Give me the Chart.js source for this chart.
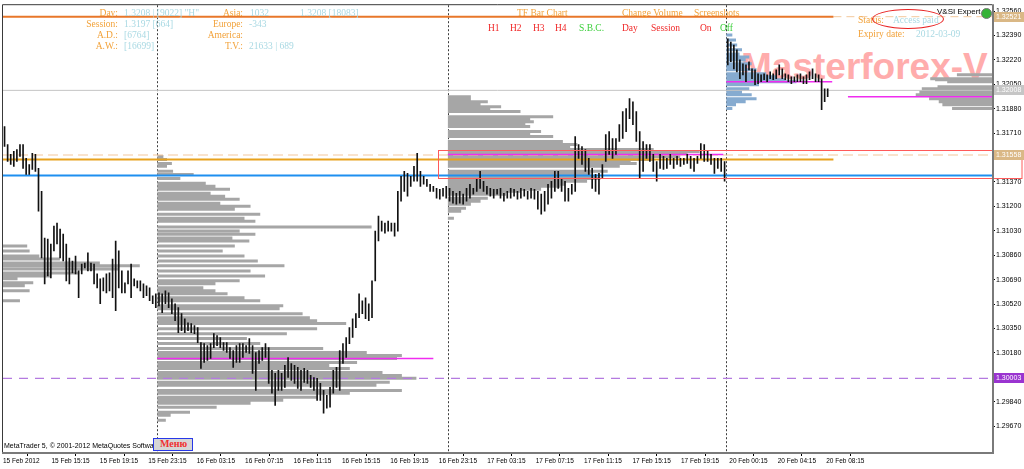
<!DOCTYPE html>
<html>
<head>
<meta charset="utf-8">
<script src="https://cdn.jsdelivr.net/npm/chart.js@4/dist/chart.umd.min.js"></script>
<style>
  html, body { margin: 0; padding: 0; background: #fff; overflow: hidden; }
  #wrap { position: relative; width: 1024px; height: 469px; }
  #c { position: absolute; left: 0; top: 0; z-index: 1; }
  .t { position: absolute; z-index: 2; font: 9.5px "Liberation Serif", serif; line-height: 12px; white-space: nowrap; }
  .lbl { color: #f2a23a; }
  .val { color: #a9d9e3; }
  .red { color: #f02828; }
  .grn { color: #3ccf3c; }
  #wm { position: absolute; z-index: 0; left: 741px; top: 48px; font: bold 37px "Liberation Sans", Arial, sans-serif;
        line-height: 1; color: #ffacac; white-space: nowrap; }
  #ell { position: absolute; z-index: 2; left: 872px; top: 9px; width: 70px; height: 18px; border: 1px solid #e82020; border-radius: 50%; }
  #copy { position: absolute; z-index: 2; left: 4px; top: 441px; font: 7px "Liberation Sans", sans-serif; line-height: 10px; color: #000; white-space: nowrap; }
  #menu { position: absolute; z-index: 3; left: 153px; top: 438px; width: 38px; height: 11px; border: 1px solid #2838e8; background: #d6d6d6; }
  #menu span { position: absolute; left: 6px; top: -1px; font: bold 10px "Liberation Serif", serif; color: #f03030; line-height: 12px; }
  #vsi { position: absolute; z-index: 2; left: 937px; top: 7px; font: 8px "Liberation Sans", sans-serif; line-height: 10px; color: #000; }
  #ico { position: absolute; z-index: 2; left: 981px; top: 8px; width: 9px; height: 9px; border-radius: 50%; background: #36b236; border: 1px solid #777; }
</style>
</head>
<body>
<div id="wrap">
  <div id="wm">Masterforex-V</div>
  <canvas id="c" width="1024" height="469"></canvas>

  <div class="t lbl" style="right:906px;top:7px">Day:</div>
  <div class="t val" style="left:124px;top:7px">1.3208 | [9022] "H"</div>
  <div class="t lbl" style="right:906px;top:18px">Session:</div>
  <div class="t val" style="left:124px;top:18px">1.3197 [664]</div>
  <div class="t lbl" style="right:906px;top:29px">A.D.:</div>
  <div class="t val" style="left:124px;top:29px">[6764]</div>
  <div class="t lbl" style="right:906px;top:40px">A.W.:</div>
  <div class="t val" style="left:124px;top:40px">[16699]</div>

  <div class="t lbl" style="right:781px;top:7px">Asia:</div>
  <div class="t val" style="left:250px;top:7px">1032</div>
  <div class="t val" style="left:300px;top:7px">1.3208 [18083]</div>
  <div class="t lbl" style="right:781px;top:18px">Europe:</div>
  <div class="t val" style="left:249px;top:18px">-343</div>
  <div class="t lbl" style="right:781px;top:29px">America:</div>
  <div class="t lbl" style="right:781px;top:40px">T.V.:</div>
  <div class="t val" style="left:249px;top:40px">21633 | 689</div>

  <div class="t lbl" style="left:517px;top:7px">TF Bar Chart</div>
  <div class="t lbl" style="left:622px;top:7px">Change Volume</div>
  <div class="t lbl" style="left:694px;top:7px">Screenshots</div>
  <div class="t red" style="left:488px;top:22px">H1</div>
  <div class="t red" style="left:510px;top:22px">H2</div>
  <div class="t red" style="left:533px;top:22px">H3</div>
  <div class="t red" style="left:555px;top:22px">H4</div>
  <div class="t grn" style="left:579px;top:22px">S.B.C.</div>
  <div class="t red" style="left:622px;top:22px">Day</div>
  <div class="t red" style="left:651px;top:22px">Session</div>
  <div class="t red" style="left:700px;top:22px">On</div>
  <div class="t grn" style="left:720px;top:22px">Off</div>

  <div id="vsi">V&amp;SI Expert</div>
  <div id="ico"></div>
  <div class="t lbl" style="left:858px;top:14px">Status:</div>
  <div class="t val" style="left:893px;top:14px">Access paid</div>
  <div id="ell"></div>
  <div class="t lbl" style="left:858px;top:28px">Expiry date:</div>
  <div class="t val" style="left:916px;top:28px">2012-03-09</div>

  <div id="copy">MetaTrader 5, © 2001-2012 MetaQuotes Software Corp.</div>
  <div id="menu"><span>Меню</span></div>
</div>

<script>
// ===== Dados (horas de pregão desde 15 Feb 11:15, preços EURUSD) =====
const xTickHours = [0, 4, 8, 12, 16, 20, 24, 28, 32, 36, 40, 44, 48, 52, 56, 60, 64, 68];
const xTickLabels = ["15 Feb 2012", "15 Feb 15:15", "15 Feb 19:15", "15 Feb 23:15", "16 Feb 03:15", "16 Feb 07:15",
  "16 Feb 11:15", "16 Feb 15:15", "16 Feb 19:15", "16 Feb 23:15", "17 Feb 03:15", "17 Feb 07:15",
  "17 Feb 11:15", "17 Feb 15:15", "17 Feb 19:15", "20 Feb 00:15", "20 Feb 04:15", "20 Feb 08:15"];
const yTicks = [1.32560, 1.32390, 1.32220, 1.32050, 1.31880, 1.31710, 1.31540, 1.31370, 1.31200,
  1.31030, 1.30860, 1.30690, 1.30520, 1.30350, 1.30180, 1.30010, 1.29840, 1.29670];
const xMax = 81.7, yMin = 1.29490, yMax = 1.32601;

const sessionStart = [0, 12.75, 36.75, 59.75];
const sessionEnd = [12.75, 36.75, 59.75, 68.25];

const day15Hi = [1.31756,1.31631,1.31562,1.31583,1.31596,1.31631,1.31631,1.31534,1.31492,1.31569,
  1.31562,1.31465,1.31305,1.30980,1.30973,1.30938,1.31063,1.31084,1.31042,1.31007,
  1.30938,1.30841,1.30820,1.30855,1.30751,1.30799,1.30806,1.30876,1.30806,1.30799,
  1.30730,1.30696,1.30702,1.30730,1.30737,1.30834,1.30959,1.30890,1.30751,1.30668,
  1.30751,1.30799,1.30696,1.30682,1.30682,1.30661,1.30647,1.30633,1.30578,1.30592];
const day15Lo = [1.31617,1.31513,1.31492,1.31479,1.31513,1.31548,1.31465,1.31423,1.31423,1.31458,
  1.31444,1.31167,1.30841,1.30661,1.30716,1.30702,1.30890,1.30938,1.30841,1.30820,
  1.30682,1.30661,1.30737,1.30730,1.30564,1.30730,1.30772,1.30751,1.30751,1.30661,
  1.30633,1.30522,1.30612,1.30598,1.30612,1.30564,1.30474,1.30633,1.30598,1.30598,
  1.30661,1.30564,1.30647,1.30633,1.30612,1.30564,1.30578,1.30543,1.30522,1.30495];

const day16Hi = [1.30598,1.30592,1.30612,1.30598,1.30557,1.30522,1.30495,1.30453,1.30418,1.30390,
  1.30384,1.30370,1.30356,1.30252,1.30245,1.30231,1.30245,1.30314,1.30300,1.30287,
  1.30252,1.30252,1.30217,1.30197,1.30231,1.30245,1.30245,1.30231,1.30280,1.30231,
  1.30183,1.30197,1.30217,1.30245,1.30217,1.30058,1.30037,1.30058,1.30037,1.30093,
  1.30148,1.30106,1.30093,1.30079,1.30058,1.30072,1.30058,1.30023,1.30009,1.30003,
  1.29968,1.29919,1.29885,1.29940,1.30058,1.30079,1.30197,1.30245,1.30287,1.30356,
  1.30418,1.30453,1.30592,1.30543,1.30564,1.30522,1.30682,1.31028,1.31132,1.31097,
  1.31084,1.31097,1.31084,1.31084,1.31305,1.31409,1.31444,1.31430,1.31409,1.31479,
  1.31569,1.31444,1.31409,1.31389,1.31354,1.31340,1.31326,1.31319,1.31326,1.31340];
const day16Lo = [1.30508,1.30460,1.30522,1.30495,1.30453,1.30404,1.30321,1.30335,1.30321,1.30335,
  1.30321,1.30314,1.30252,1.30072,1.30113,1.30127,1.30141,1.30217,1.30231,1.30217,
  1.30197,1.30183,1.30141,1.30079,1.30113,1.30113,1.30148,1.30183,1.30176,1.30037,
  1.29919,1.30106,1.30127,1.30148,1.29968,1.29899,1.29815,1.29919,1.29919,1.29940,
  1.30009,1.29989,1.29968,1.29933,1.29919,1.29975,1.29968,1.29940,1.29919,1.29850,
  1.29850,1.29760,1.29795,1.29802,1.29899,1.29940,1.29919,1.30106,1.30148,1.30245,
  1.30287,1.30356,1.30425,1.30453,1.30418,1.30404,1.30425,1.30682,1.30959,1.31028,
  1.31014,1.31028,1.31028,1.30993,1.31028,1.31236,1.31305,1.31271,1.31340,1.31375,
  1.31375,1.31340,1.31354,1.31340,1.31305,1.31305,1.31257,1.31250,1.31271,1.31257];

const day17Hi = [1.31326,1.31305,1.31291,1.31305,1.31285,1.31326,1.31354,1.31326,1.31395,1.31444,
  1.31375,1.31340,1.31326,1.31319,1.31319,1.31326,1.31291,1.31305,1.31326,1.31319,
  1.31305,1.31326,1.31319,1.31305,1.31326,1.31319,1.31305,1.31285,1.31305,1.31354,
  1.31375,1.31444,1.31444,1.31395,1.31375,1.31326,1.31354,1.31686,1.31631,1.31617,
  1.31596,1.31534,1.31465,1.31423,1.31430,1.31492,1.31700,1.31721,1.31673,1.31673,
  1.31770,1.31860,1.31881,1.31950,1.31929,1.31860,1.31721,1.31652,1.31631,1.31631,
  1.31562,1.31513,1.31562,1.31548,1.31534,1.31562,1.31534,1.31548,1.31534,1.31534,
  1.31562,1.31548,1.31534,1.31548,1.31638,1.31631,1.31583,1.31562,1.31534,1.31534,
  1.31534,1.31513];
const day17Lo = [1.31236,1.31222,1.31215,1.31222,1.31215,1.31236,1.31257,1.31285,1.31305,1.31326,
  1.31305,1.31285,1.31271,1.31257,1.31285,1.31257,1.31236,1.31257,1.31257,1.31271,
  1.31250,1.31257,1.31271,1.31250,1.31257,1.31250,1.31181,1.31146,1.31167,1.31215,
  1.31257,1.31305,1.31326,1.31305,1.31236,1.31236,1.31285,1.31305,1.31534,1.31492,
  1.31444,1.31423,1.31326,1.31305,1.31285,1.31395,1.31513,1.31562,1.31534,1.31562,
  1.31652,1.31673,1.31721,1.31811,1.31770,1.31652,1.31395,1.31444,1.31534,1.31513,
  1.31444,1.31375,1.31465,1.31458,1.31465,1.31492,1.31465,1.31492,1.31479,1.31492,
  1.31499,1.31465,1.31444,1.31499,1.31534,1.31513,1.31513,1.31492,1.31430,1.31465,
  1.31444,1.31375];

const day20Hi = [1.32366,1.32345,1.32324,1.32290,1.32220,1.32193,1.32186,1.32207,1.32158,1.32151,
  1.32123,1.32116,1.32123,1.32116,1.32137,1.32123,1.32151,1.32186,1.32158,1.32123,
  1.32116,1.32102,1.32102,1.32116,1.32123,1.32102,1.32116,1.32137,1.32158,1.32123,
  1.32116,1.32089,1.32019,1.32019];
const day20Lo = [1.32186,1.32207,1.32158,1.32137,1.32089,1.32116,1.32068,1.32151,1.32089,1.32047,
  1.32054,1.32068,1.32082,1.32068,1.32089,1.32082,1.32089,1.32116,1.32089,1.32082,
  1.32068,1.32054,1.32068,1.32068,1.32068,1.32054,1.32054,1.32082,1.32089,1.32068,
  1.32068,1.31874,1.31929,1.31964];

// perfis de volume: nível de preço e largura (em horas do eixo X)
const profAPrice = [1.30924,1.30890,1.30855,1.30834,1.30806,1.30786,1.30765,1.30737,1.30716,1.30696,1.30668,1.30647,1.30612,1.30543];
const profAWidth = [2.0,2.2,3.0,4.7,8.0,11.3,9.6,6.3,3.9,1.2,2.5,1.8,2.2,1.4];
const profBPrice = [1.31548,1.31527,1.31499,1.31479,1.31444,1.31423,1.31395,1.31361,1.31340,1.31319,
  1.31291,1.31271,1.31250,1.31222,1.31201,1.31181,1.31146,1.31118,1.31097,1.31056,
  1.31028,1.31007,1.30980,1.30959,1.30924,1.30890,1.30855,1.30820,1.30786,1.30751,
  1.30716,1.30682,1.30661,1.30633,1.30612,1.30592,1.30564,1.30543,1.30508,1.30488,
  1.30453,1.30425,1.30404,1.30384,1.30349,1.30314,1.30280,1.30245,1.30210,1.30183,
  1.30162,1.30141,1.30113,1.30093,1.30072,1.30044,1.30023,1.30003,1.29975,1.29954,
  1.29919,1.29899,1.29871,1.29850,1.29829,1.29802,1.29767,1.29746,1.29711];
const profBWidth = [0.5,0.8,1.2,0.8,1.3,3.0,1.9,4.0,4.8,6.0,
  4.4,5.6,6.8,5.2,7.7,6.4,8.5,7.2,8.1,17.7,
  6.8,8.1,6.2,7.6,6.4,5.4,7.2,8.3,10.5,7.7,
  8.9,6.8,4.8,3.8,4.8,5.8,7.2,8.5,10.4,10.1,
  12.0,12.6,13.2,15.6,13.2,10.7,7.4,8.5,13.7,17.3,
  20.2,19.8,16.5,14.2,15.9,18.6,20.2,21.4,19.2,18.1,
  20.2,15.9,13.2,10.4,7.7,4.9,2.7,1.1,0.7];
const profCPrice = [1.31964,1.31950,1.31929,1.31908,1.31894,1.31874,1.31860,1.31825,1.31811,1.31790,
  1.31770,1.31756,1.31721,1.31700,1.31686,1.31652,1.31631,1.31617,1.31596,1.31583,
  1.31569,1.31548,1.31527,1.31513,1.31499,1.31479,1.31444,1.31430,1.31409,1.31395,
  1.31375,1.31354,1.31340,1.31319,1.31305,1.31285,1.31257,1.31236,1.31215,1.31188,
  1.31167,1.31118];
const profCWidth = [1.9,1.9,3.3,2.7,4.4,3.5,6.0,8.7,6.8,7.1,
  6.4,6.8,7.7,6.8,8.7,9.5,10.7,10.1,17.0,20.8,
  19.8,19.2,17.0,15.1,15.6,14.2,13.2,11.8,12.3,12.6,
  11.5,9.7,9.3,7.7,6.0,4.8,3.3,2.7,1.9,1.5,
  1.1,0.5];
const profDPrice = [1.32394,1.32359,1.32324,1.32290,1.32262,1.32241,1.32220,1.32193,1.32172,1.32151,1.32123,
  1.32102,1.32082,1.32068,1.32047,1.32019,1.31998,1.31978,1.31950,1.31929,1.31908,1.31881];
const profDWidth = [0.5,0.8,0.9,1.3,1.1,1.9,1.6,2.1,1.7,2.5,3.3,4.1,4.9,5.8,2.7,1.9,1.3,2.1,2.5,1.6,0.8,0.5];
const profEPrice = [1.32116,1.32089,1.32082,1.32068,1.32033,1.32019,1.31998,1.31978,1.31950,1.31929,1.31908,1.31881];
const profEWidth = [2.9,5.1,4.7,3.7,4.5,5.8,6.0,6.3,5.2,4.4,4.1,3.3];

// POC de cada perfil
const pocPrice = [1.30141, 1.31562, 1.32068, 1.31964];
const pocFrom = [12.75, 36.75, 59.75, 69.8];
const pocTo = [35.55, 59.5, 68.5, 81.7];

// linhas horizontais
const levelPrice = [1.32521, 1.32521, 1.31558, 1.31527, 1.31416, 1.32008, 1.30003];
const levelFrom = [0, 68.6, 0, 0, 0, 0, 0];
const levelTo = [68.6, 81.7, 81.7, 68.6, 81.7, 81.7, 81.7];
const markPrice = [1.32521, 1.32008, 1.31558, 1.30003];
const rectFrom = 35.95, rectTop = 1.31590, rectBottom = 1.31395;

// ===== estilos =====
const levelStyle = [
  { c: "#e8772a", w: 2, d: [] }, { c: "#f3c89c", w: 1, d: [8, 5] }, { c: "#f3c89c", w: 1.2, d: [10, 5] },
  { c: "#e8a21c", w: 2, d: [] }, { c: "#1e8ff0", w: 2, d: [] }, { c: "#c4c4c4", w: 1, d: [] },
  { c: "#b47ae0", w: 1.2, d: [9, 7] }];
const markStyle = ["#dab886", "#c6c6c6", "#dab886", "#9a34d0"];
const CINZA = "#a6a6a6";

// ===== montagem =====
function barsFor(s, hi, lo) {
  const step = (sessionEnd[s] - sessionStart[s]) / hi.length;
  return hi.map((h, i) => ({ x: sessionStart[s] + (i + 0.5) * step, y: [lo[i], h] }));
}
function profile(x0, prices, widths, dir) {
  const pts = [];
  prices.forEach((p, i) => {
    pts.push({ x: x0, y: p }, { x: x0 + dir * widths[i], y: p }, { x: x0, y: null });
  });
  return pts;
}
function linha(data, cor, larg, ordem, dash) {
  return { type: "line", data, borderColor: cor, borderWidth: larg, borderDash: dash || [],
    pointRadius: 0, spanGaps: false, order: ordem, borderCapStyle: "butt" };
}

const barras = [].concat(barsFor(0, day15Hi, day15Lo), barsFor(1, day16Hi, day16Lo),
  barsFor(2, day17Hi, day17Lo), barsFor(3, day20Hi, day20Lo));

const datasets = [
  { type: "bar", data: barras, backgroundColor: "#111", barThickness: 1, order: 0 },
  linha(profile(0, profAPrice, profAWidth, 1), CINZA, 3, 5),
  linha(profile(sessionStart[1], profBPrice, profBWidth, 1), CINZA, 3, 5),
  linha(profile(sessionStart[2], profCPrice, profCWidth, 1), CINZA, 3, 5),
  linha(profile(sessionStart[3], profDPrice, profDWidth, 1), "#86abd0", 3, 5),
  linha(profile(xMax, profEPrice, profEWidth, -1), CINZA, 3, 5),
];
levelPrice.forEach((p, i) => {
  const s = levelStyle[i];
  datasets.push(linha([{ x: levelFrom[i], y: p }, { x: levelTo[i], y: p }], s.c, s.w, 3, s.d));
});
pocPrice.forEach((p, i) => {
  datasets.push(linha([{ x: pocFrom[i], y: p }, { x: pocTo[i], y: p }], "#f02cf0", 1.5, 2));
});

const extras = {
  id: "extras",
  beforeDatasetsDraw(c) {
    const { ctx, chartArea: a, scales: { x } } = c;
    ctx.save();
    ctx.strokeStyle = "#3c3c3c"; ctx.lineWidth = 1; ctx.setLineDash([2, 2]);
    sessionStart.slice(1).forEach(h => {
      const px = Math.round(x.getPixelForValue(h)) + 0.5;
      ctx.beginPath(); ctx.moveTo(px, a.top); ctx.lineTo(px, a.bottom); ctx.stroke();
    });
    ctx.restore();
  },
  afterDatasetsDraw(c) {
    const { ctx, scales: { x, y } } = c;
    ctx.save();
    ctx.strokeStyle = "#ff5a5a"; ctx.lineWidth = 1;
    const l = Math.round(x.getPixelForValue(rectFrom)) + 0.5;
    const t = Math.round(y.getPixelForValue(rectTop)) + 0.5;
    const b = Math.round(y.getPixelForValue(rectBottom)) + 0.5;
    ctx.strokeRect(l, t, c.width - 2 - l, b - t);
    ctx.restore();
  },
  afterDraw(c) {
    const { ctx, chartArea: a, scales: { y } } = c;
    ctx.save();
    // moldura
    ctx.strokeStyle = "#3a3a3a"; ctx.lineWidth = 1;
    ctx.beginPath(); ctx.moveTo(a.left - 0.5, a.bottom); ctx.lineTo(a.left - 0.5, a.top - 0.5); ctx.lineTo(a.right, a.top - 0.5); ctx.stroke();
    ctx.strokeStyle = "#7a7a7a"; ctx.lineWidth = 2;
    ctx.beginPath(); ctx.moveTo(a.left - 1, a.bottom + 1); ctx.lineTo(a.right + 1, a.bottom + 1); ctx.lineTo(a.right + 1, a.top - 1); ctx.stroke();
    // etiquetas de preço no eixo
    ctx.font = "7px 'Liberation Sans'"; ctx.textBaseline = "middle";
    markPrice.forEach((p, i) => {
      const py = Math.round(y.getPixelForValue(p));
      ctx.fillStyle = markStyle[i];
      ctx.fillRect(a.right + 2, py - 5, c.width - a.right - 2, 10);
      ctx.fillStyle = "#fff";
      ctx.fillText(p.toFixed(5), a.right + 4, py);
    });
    ctx.restore();
  }
};

new Chart(document.getElementById("c"), {
  type: "bar",
  data: { datasets },
  options: {
    responsive: false, animation: false,
    layout: { padding: { left: 3, top: 3, right: 0, bottom: 0 } },
    plugins: { legend: { display: false }, tooltip: { enabled: false } },
    scales: {
      x: {
        type: "linear", min: 0, max: xMax, offset: false,
        grid: { drawOnChartArea: false, tickLength: 4, color: "#000" },
        border: { display: false },
        afterBuildTicks: s => { s.ticks = xTickHours.map(v => ({ value: v })); },
        afterFit: s => { s.height = 17; },
        ticks: { autoSkip: false, maxRotation: 0, align: "start", padding: 1, color: "#000",
          font: { family: "Liberation Sans", size: 6.5 },
          callback: (v, i) => xTickLabels[i] }
      },
      y: {
        position: "right", min: yMin, max: yMax,
        grid: { drawOnChartArea: false, tickLength: 3, color: "#000" },
        border: { display: false },
        afterBuildTicks: s => { s.ticks = yTicks.map(v => ({ value: v })); },
        afterFit: s => { s.width = 32; },
        ticks: { padding: 1, color: "#000", font: { family: "Liberation Sans", size: 7 },
          callback: v => v.toFixed(5) }
      }
    }
  },
  plugins: [extras]
});
</script>
</body>
</html>
